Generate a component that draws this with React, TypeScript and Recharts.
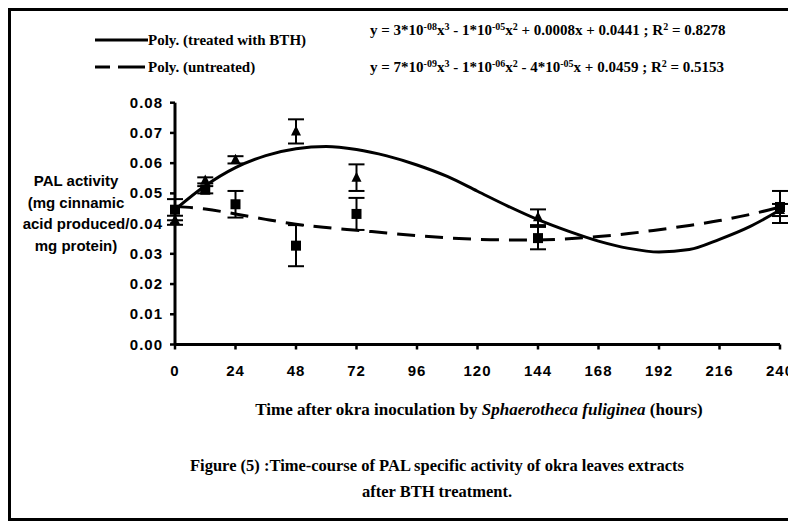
import React from "react";
import {
  ComposedChart,
  Line,
  Scatter,
  ErrorBar,
  XAxis,
  YAxis,
} from "recharts";

// fitted polynomial trend lines, every 12 h
const trendHours = [0, 12, 24, 36, 48, 60, 72, 84, 96, 108, 120, 132, 144, 156, 168, 180, 192, 204, 216, 228, 240];
const treatedTrend = [
  0.0446, 0.0525, 0.0585, 0.0625, 0.0648, 0.0655, 0.0645, 0.0624, 0.0594, 0.0556, 0.0507,
  0.0458, 0.0413, 0.0375, 0.0342, 0.0318, 0.0306, 0.0314, 0.0348, 0.039, 0.0445,
];
const untreatedTrend = [
  0.0457, 0.0448, 0.0432, 0.0414, 0.0398, 0.0387, 0.0378, 0.0369, 0.036, 0.0353, 0.0348,
  0.0346, 0.0346, 0.035, 0.0357, 0.0367, 0.038, 0.0394, 0.041, 0.043, 0.0455,
];

// measured means and error bars
const sampleHours = [0, 12, 24, 48, 72, 144, 240];
const treatedMeans = [0.0411, 0.0543, 0.0611, 0.0705, 0.0552, 0.0421, 0.0445];
const treatedErr = [0.0015, 0.001, 0.0012, 0.004, 0.0044, 0.0026, 0.002];
const untreatedMeans = [0.0446, 0.0512, 0.0464, 0.0327, 0.0432, 0.0352, 0.0455];
const untreatedErr = [0.0035, 0.0012, 0.0044, 0.0068, 0.0053, 0.0037, 0.0053];

const xTicks = [0, 24, 48, 72, 96, 120, 144, 168, 192, 216, 240];
const yTicks = [0, 0.01, 0.02, 0.03, 0.04, 0.05, 0.06, 0.07, 0.08];

const treatedLine = trendHours.map((t, i) => ({ t, v: treatedTrend[i] }));
const untreatedLine = trendHours.map((t, i) => ({ t, v: untreatedTrend[i] }));
const treatedPts = sampleHours.map((t, i) => ({ t, v: treatedMeans[i], e: treatedErr[i] }));
const untreatedPts = sampleHours.map((t, i) => ({ t, v: untreatedMeans[i], e: untreatedErr[i] }));

const SANS = "'Liberation Sans', Arial, sans-serif";
const SERIF = "'Liberation Serif', 'Times New Roman', serif";

function YTick(props: any) {
  const { x, y, payload } = props;
  return (
    <g>
      <line x1={x - 5} x2={x} y1={y} y2={y} stroke="#000" strokeWidth={2.5} />
      <text
        x={x - 12}
        y={y}
        dy={5}
        textAnchor="end"
        fontFamily={SANS}
        fontWeight="bold"
        fontSize={15}
        letterSpacing={1}
        fill="#000"
      >
        {payload.value.toFixed(2)}
      </text>
    </g>
  );
}

function XTick(props: any) {
  const { x, y, payload } = props;
  return (
    <g>
      <line x1={x} x2={x} y1={y} y2={y + 5} stroke="#000" strokeWidth={2.5} />
      <text
        x={x}
        y={y + 26}
        dy={5}
        textAnchor="middle"
        fontFamily={SANS}
        fontWeight="bold"
        fontSize={15}
        letterSpacing={1}
        fill="#000"
      >
        {payload.value}
      </text>
    </g>
  );
}

function Triangle(props: any) {
  const { cx, cy } = props;
  return <path d={`M${cx},${cy - 6} L${cx + 5},${cy + 4} L${cx - 5},${cy + 4} Z`} fill="#000" />;
}

function Square(props: any) {
  const { cx, cy } = props;
  return <rect x={cx - 5} y={cy - 5} width={10} height={10} fill="#000" />;
}

const abs = (left: number, top: number): React.CSSProperties => ({
  position: "absolute",
  left,
  top,
  whiteSpace: "nowrap",
  color: "#000",
});

const sup: React.CSSProperties = { fontSize: 10, lineHeight: 0, verticalAlign: "0.5em" };

export default function App() {
  return (
    <div
      style={{
        position: "relative",
        width: 788,
        height: 522,
        overflow: "hidden",
        background: "#fff",
      }}
    >
      <style>{`body{margin:0;overflow:hidden}`}</style>
      <ComposedChart
        width={788}
        height={522}
        margin={{ top: 102.7, right: 8, bottom: 147.5, left: 0 }}
      >
        <XAxis
          type="number"
          dataKey="t"
          domain={[0, 240]}
          ticks={xTicks}
          interval={0}
          tick={<XTick />}
          tickLine={false}
          tickSize={0}
          tickMargin={0}
          axisLine={{ stroke: "#000", strokeWidth: 3 }}
        />
        <YAxis
          type="number"
          domain={[0, 0.08]}
          ticks={yTicks}
          interval={0}
          width={175}
          tick={<YTick />}
          tickLine={false}
          tickSize={0}
          tickMargin={0}
          axisLine={{ stroke: "#000", strokeWidth: 3 }}
        />
        <Line
          data={treatedLine}
          dataKey="v"
          type="monotone"
          stroke="#000"
          strokeWidth={3}
          dot={false}
          isAnimationActive={false}
        />
        <Line
          data={untreatedLine}
          dataKey="v"
          type="monotone"
          stroke="#000"
          strokeWidth={3}
          strokeDasharray="18 10"
          dot={false}
          isAnimationActive={false}
        />
        <Scatter data={untreatedPts} dataKey="v" shape={<Square />} isAnimationActive={false}>
          <ErrorBar dataKey="e" direction="y" width={8} stroke="#000" strokeWidth={2} />
        </Scatter>
        <Scatter data={treatedPts} dataKey="v" shape={<Triangle />} isAnimationActive={false}>
          <ErrorBar dataKey="e" direction="y" width={8} stroke="#000" strokeWidth={2} />
        </Scatter>
      </ComposedChart>

      {/* legend */}
      <svg style={{ position: "absolute", left: 0, top: 0 }} width={160} height={80}>
        <line x1={95} x2={148} y1={40} y2={40} stroke="#000" strokeWidth={3} />
        <line x1={95} x2={110} y1={67} y2={67} stroke="#000" strokeWidth={3} />
        <line x1={118} x2={145} y1={67} y2={67} stroke="#000" strokeWidth={3} />
      </svg>
      <div style={{ ...abs(148, 30), fontFamily: SERIF, fontWeight: "bold", fontSize: 15, lineHeight: "20px" }}>
        Poly. (treated with BTH)
      </div>
      <div style={{ ...abs(148, 57), fontFamily: SERIF, fontWeight: "bold", fontSize: 15, lineHeight: "20px" }}>
        Poly. (untreated)
      </div>
      <div style={{ ...abs(370, 20), fontFamily: SERIF, fontWeight: "bold", fontSize: 15, lineHeight: "20px" }}>
        y = 3*10<sup style={sup}>-08</sup>x<sup style={sup}>3</sup> - 1*10
        <sup style={sup}>-05</sup>x<sup style={sup}>2</sup> + 0.0008x + 0.0441 ; R
        <sup style={sup}>2</sup> = 0.8278
      </div>
      <div style={{ ...abs(370, 57), fontFamily: SERIF, fontWeight: "bold", fontSize: 15, lineHeight: "20px" }}>
        y = 7*10<sup style={sup}>-09</sup>x<sup style={sup}>3</sup> - 1*10
        <sup style={sup}>-06</sup>x<sup style={sup}>2</sup> - 4*10
        <sup style={sup}>-05</sup>x + 0.0459 ; R<sup style={sup}>2</sup> = 0.5153
      </div>

      {/* y axis title */}
      <div
        style={{
          ...abs(4, 170),
          width: 144,
          textAlign: "center",
          fontFamily: SANS,
          fontWeight: "bold",
          fontSize: 15,
          lineHeight: "21.5px",
        }}
      >
        PAL activity
        <br />
        (mg cinnamic
        <br />
        acid produced/
        <br />
        mg protein)
      </div>

      {/* x axis title */}
      <div
        style={{
          ...abs(179, 399),
          width: 600,
          textAlign: "center",
          fontFamily: SERIF,
          fontWeight: "bold",
          fontSize: 17,
          lineHeight: "22px",
        }}
      >
        Time after okra inoculation by <i>Sphaerotheca fuliginea</i> (hours)
      </div>

      {/* caption */}
      <div
        style={{
          ...abs(137, 453),
          width: 600,
          textAlign: "center",
          fontFamily: SERIF,
          fontWeight: "bold",
          fontSize: 16.5,
          lineHeight: "26px",
        }}
      >
        Figure (5) :Time-course of PAL specific activity of okra leaves extracts
        <br />
        after BTH treatment.
      </div>

      {/* figure frame, open on the right like the scan */}
      <div
        style={{
          position: "absolute",
          left: 8,
          top: 8,
          width: 820,
          height: 513,
          boxSizing: "border-box",
          borderLeft: "3px solid #000",
          borderTop: "3px solid #000",
          borderBottom: "3px solid #000",
          pointerEvents: "none",
        }}
      />
    </div>
  );
}
